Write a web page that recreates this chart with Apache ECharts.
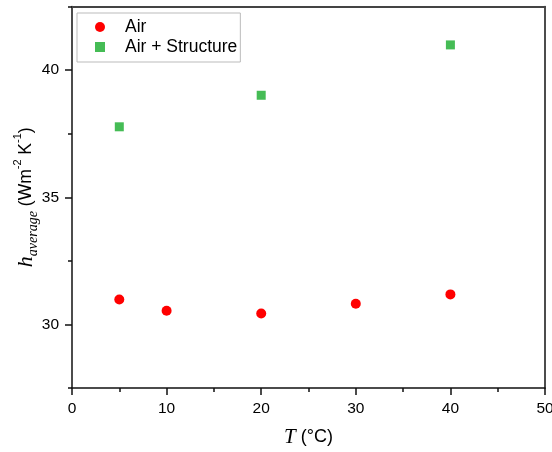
<!DOCTYPE html>
<html>
<head>
<meta charset="utf-8">
<script src="https://cdn.jsdelivr.net/npm/echarts@6/dist/echarts.min.js"></script>
<style>html,body{margin:0;padding:0;background:#fff}#c{width:552px;height:452px}</style>
</head>
<body>
<div id="c"></div>
<script>
const airT = [5, 10, 20, 30, 40];
const airH = [30.98, 30.54, 30.43, 30.81, 31.18];
const structT = [5, 20, 40];
const structH = [37.77, 39.01, 40.99];
const yMajor = [30, 35, 40];
const yMinor = [27.5, 32.5, 37.5, 42.5];
const xMajor = [0, 10, 20, 30, 40, 50];
const xMinor = [5, 15, 25, 35, 45];

const chart = echarts.init(document.getElementById('c'), null, {renderer: 'canvas'});
const sans = 'Liberation Sans, Arial, sans-serif';
const serif = 'Liberation Serif, Times New Roman, serif';
const axisCol = '#111';
const red = '#ff0000';
const green = '#45bc55';
const option = {
  animation: false,
  backgroundColor: '#fff',
  grid: {left: 72, right: 7, top: 6.5, bottom: 64, containLabel: false, outerBoundsMode: 'none'},
  legend: {
    orient: 'vertical', left: 77, top: 13,
    padding: [5, 3, 6, 18], itemGap: 2,
    itemWidth: 10, itemHeight: 10,
    borderColor: '#bbb', borderWidth: 1,
    textStyle: {fontFamily: sans, fontSize: 17.5, color: '#000', padding: [0, 0, 0, 15]},
    data: [
      {name: 'Air', icon: 'circle', itemStyle: {color: red, opacity: 1}},
      {name: 'Air + Structure', icon: 'rect', itemStyle: {color: green, opacity: 1}}
    ]
  },
  xAxis: [{
    type: 'value', min: 0, max: 50, interval: 5, position: 'bottom',
    name: '{i|T}{t| (°C)}', nameLocation: 'middle', nameGap: 38, nameMoveOverlap: false,
    nameTextStyle: {rich: {
      i: {fontFamily: serif, fontStyle: 'italic', fontSize: 21, color: '#000', lineHeight: 22},
      t: {fontFamily: sans, fontSize: 18, color: '#000', lineHeight: 22}
    }},
    axisLine: {show: true, onZero: false, lineStyle: {color: axisCol, width: 1.5}},
    axisTick: {show: true, inside: false, length: 7, customValues: xMajor, lineStyle: {color: axisCol, width: 1.5}},
    axisLabel: {customValues: xMajor, fontFamily: sans, fontSize: 15.5, color: '#000', margin: 13},
    splitLine: {show: false}
  }, {
    type: 'value', min: 0, max: 50, position: 'bottom',
    axisLine: {show: false},
    axisTick: {show: true, length: 4, customValues: xMinor, lineStyle: {color: axisCol, width: 1.5}},
    axisLabel: {show: false}, splitLine: {show: false}
  }, {
    type: 'value', min: 0, max: 50, position: 'top',
    axisLine: {show: true, onZero: false, lineStyle: {color: '#444', width: 2}},
    axisTick: {show: false}, axisLabel: {show: false}, splitLine: {show: false}
  }],
  yAxis: [{
    type: 'value', min: 27.5, max: 42.5, interval: 2.5, position: 'left',
    name: '{h|h}{sub|average}{t| (Wm}{sup|-2}{t| K}{sup|-1}{t|)}',
    nameLocation: 'middle', nameRotate: 90, nameGap: 32, nameMoveOverlap: false,
    nameTextStyle: {rich: {
      h: {fontFamily: serif, fontStyle: 'italic', fontSize: 22, color: '#000', lineHeight: 28},
      sub: {fontFamily: serif, fontStyle: 'italic', fontSize: 14, color: '#000', lineHeight: 18, verticalAlign: 'bottom'},
      t: {fontFamily: sans, fontSize: 17.5, color: '#000', lineHeight: 28},
      sup: {fontFamily: sans, fontSize: 11, color: '#000', lineHeight: 14, verticalAlign: 'top'}
    }},
    axisLine: {show: true, onZero: false, lineStyle: {color: axisCol, width: 1.5}},
    axisTick: {show: true, length: 7, customValues: yMajor, lineStyle: {color: axisCol, width: 1.5}},
    axisLabel: {customValues: yMajor, fontFamily: sans, fontSize: 15.5, color: '#000', margin: 13},
    splitLine: {show: false}
  }, {
    type: 'value', min: 27.5, max: 42.5, position: 'left',
    axisLine: {show: false},
    axisTick: {show: true, length: 4, customValues: yMinor, lineStyle: {color: axisCol, width: 1.5}},
    axisLabel: {show: false}, splitLine: {show: false}
  }, {
    type: 'value', min: 27.5, max: 42.5, position: 'right',
    axisLine: {show: true, onZero: false, lineStyle: {color: axisCol, width: 1.5}},
    axisTick: {show: false}, axisLabel: {show: false}, splitLine: {show: false}
  }],
  series: [{
    name: 'Air', type: 'scatter', symbol: 'circle', symbolSize: 10,
    itemStyle: {color: red, opacity: 1},
    data: airT.map((t, i) => [t, airH[i]])
  }, {
    name: 'Air + Structure', type: 'scatter', symbol: 'rect', symbolSize: 9,
    itemStyle: {color: green, opacity: 1},
    data: structT.map((t, i) => [t, structH[i]])
  }]
};
chart.setOption(option);
</script>
</body>
</html>
